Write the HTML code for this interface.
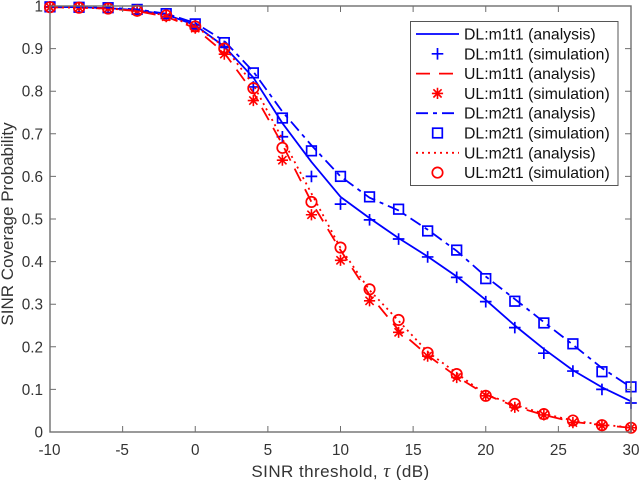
<!DOCTYPE html>
<html>
<head>
<meta charset="utf-8">
<title>SINR Coverage Probability</title>
<style>
html,body{margin:0;padding:0;background:#fff;}
svg{display:block;filter:blur(0.35px);}
text{font-family:"Liberation Sans",sans-serif;}
</style>
</head>
<body>
<svg id="chart" xmlns="http://www.w3.org/2000/svg" width="640" height="480" viewBox="0 0 640 480">
  <rect x="50" y="6" width="581" height="426" fill="#fff"/>
  <g id="series"></g>
  <g id="axes"></g>
  <text x="340.5" y="477" text-anchor="middle" font-size="17" letter-spacing="0.45" fill="#333">SINR threshold, <tspan font-family="Liberation Serif" font-style="italic" font-size="19">τ</tspan> (dB)</text>
  <text transform="translate(13,224) rotate(-90)" text-anchor="middle" font-size="17" fill="#333">SINR Coverage Probability</text>
  <g id="legend"></g>
</svg>
<script>
const thresholds = [-10,-8,-6,-4,-2,0,2,4,6,8,10,12,14,16,18,20,22,24,26,28,30];
const dlM1Analysis = [0.998,0.997,0.995,0.99,0.98,0.955,0.905,0.832,0.725,0.634,0.552,0.502,0.455,0.412,0.365,0.31,0.25,0.195,0.145,0.105,0.072];
const dlM1Simulation = [0.998,0.997,0.995,0.99,0.98,0.955,0.905,0.81,0.693,0.60,0.535,0.498,0.453,0.411,0.363,0.306,0.245,0.185,0.143,0.10,0.068];
const ulM1Analysis = [0.997,0.996,0.994,0.988,0.975,0.948,0.89,0.797,0.675,0.54,0.427,0.322,0.239,0.18,0.13,0.088,0.06,0.04,0.024,0.016,0.01];
const ulM1Simulation = [0.997,0.996,0.994,0.988,0.975,0.948,0.887,0.778,0.638,0.51,0.403,0.308,0.234,0.178,0.128,0.085,0.058,0.04,0.022,0.015,0.01];
const dlM2Analysis = [0.998,0.997,0.996,0.992,0.982,0.96,0.918,0.846,0.752,0.673,0.60,0.55,0.52,0.475,0.425,0.365,0.312,0.258,0.205,0.15,0.105];
const dlM2Simulation = [0.998,0.997,0.996,0.992,0.982,0.958,0.914,0.843,0.737,0.66,0.60,0.552,0.523,0.472,0.427,0.36,0.307,0.256,0.207,0.1415,0.106];
const ulM2Analysis = [0.997,0.996,0.994,0.989,0.978,0.952,0.905,0.815,0.688,0.56,0.432,0.333,0.261,0.188,0.138,0.088,0.064,0.043,0.027,0.017,0.011];
const ulM2Simulation = [0.997,0.996,0.994,0.989,0.978,0.952,0.90,0.807,0.667,0.54,0.433,0.335,0.263,0.186,0.136,0.085,0.066,0.042,0.027,0.016,0.01];
const xTickValues = [-10,-5,0,5,10,15,20,25,30];
const yTickValues = [0,0.1,0.2,0.3,0.4,0.5,0.6,0.7,0.8,0.9,1];
const legendLabels = ["DL:m1t1 (analysis)","DL:m1t1 (simulation)","UL:m1t1 (analysis)","UL:m1t1 (simulation)","DL:m2t1 (analysis)","DL:m2t1 (simulation)","UL:m2t1 (analysis)","UL:m2t1 (simulation)"];

const NS = "http://www.w3.org/2000/svg";
const BLUE = "#0000ff", RED = "#ff0000", AXIS = "#6e6e6e", TEXT = "#333";
const plotLeft = 50, plotRight = 631, plotTop = 6, plotBottom = 432;
const xScale = v => plotLeft + (v + 10) / 40 * (plotRight - plotLeft);
const yScale = v => plotBottom - v * (plotBottom - plotTop);

function mk(tag, parent, props) {
  const el = document.createElementNS(NS, tag);
  for (const k in props) el.setAttribute(k, props[k]);
  parent.appendChild(el);
  return el;
}

function drawLine(parent, xs, ys, color, dash, name) {
  const d = xs.map((x, i) => (i ? "L" : "M") + xScale(x).toFixed(2) + " " + yScale(ys[i]).toFixed(2)).join("");
  const p = mk("path", parent, {d: d, fill: "none", stroke: color, "stroke-width": 1.8, "stroke-dasharray": dash, "stroke-linejoin": "round"});
  
  
}

function drawMarker(parent, kind, cx, cy, name) {
  const g = mk("g", parent, {fill: "none", "stroke-width": 1.7});
  
  
  if (kind === "plus") {
    g.setAttribute("stroke", BLUE);
    mk("path", g, {d: `M${cx-5.8} ${cy}H${cx+5.8}M${cx} ${cy-5.8}V${cy+5.8}`});
  } else if (kind === "star") {
    g.setAttribute("stroke", RED);
    mk("path", g, {d: `M${cx-5.6} ${cy}H${cx+5.6}M${cx} ${cy-5.6}V${cy+5.6}M${cx-4.1} ${cy-4.1}L${cx+4.1} ${cy+4.1}M${cx-4.1} ${cy+4.1}L${cx+4.1} ${cy-4.1}`, "stroke-width": 1.6});
  } else if (kind === "square") {
    g.setAttribute("stroke", BLUE);
    mk("rect", g, {x: cx-4.8, y: cy-4.8, width: 9.6, height: 9.6});
  } else {
    g.setAttribute("stroke", RED);
    mk("circle", g, {cx: cx, cy: cy, r: 5.2});
  }
}

const seriesRoot = document.getElementById("series");
drawLine(seriesRoot, thresholds, dlM1Analysis, BLUE, "none", "dl-m1t1-analysis-line");
thresholds.forEach((x, i) => drawMarker(seriesRoot, "plus", xScale(x), yScale(dlM1Simulation[i]), "dl-m1t1-simulation-point"));
drawLine(seriesRoot, thresholds, ulM1Analysis, RED, "14 9", "ul-m1t1-analysis-line");
thresholds.forEach((x, i) => drawMarker(seriesRoot, "star", xScale(x), yScale(ulM1Simulation[i]), "ul-m1t1-simulation-point"));
drawLine(seriesRoot, thresholds, dlM2Analysis, BLUE, "12 5 4 5", "dl-m2t1-analysis-line");
thresholds.forEach((x, i) => drawMarker(seriesRoot, "square", xScale(x), yScale(dlM2Simulation[i]), "dl-m2t1-simulation-point"));
drawLine(seriesRoot, thresholds, ulM2Analysis, RED, "2 4", "ul-m2t1-analysis-line");
thresholds.forEach((x, i) => drawMarker(seriesRoot, "circle", xScale(x), yScale(ulM2Simulation[i]), "ul-m2t1-simulation-point"));

const axesRoot = document.getElementById("axes");
const frame = mk("rect", axesRoot, {x: plotLeft, y: plotTop, width: plotRight-plotLeft, height: plotBottom-plotTop, fill: "none", stroke: AXIS, "stroke-width": 1.4});



xTickValues.forEach(v => {
  const x = xScale(v);
  const t = mk("path", axesRoot, {d: `M${x} ${plotBottom}v-6M${x} ${plotTop}v6`, stroke: AXIS, "stroke-width": 1, fill: "none"});
  
  
  const l = mk("text", axesRoot, {x: x - (v < 0 ? 0.5 : 0), y: 455, "text-anchor": "middle", "font-size": 15.3, fill: TEXT});
  
  
  l.textContent = String(v);
});
yTickValues.forEach(v => {
  const y = yScale(v);
  const t = mk("path", axesRoot, {d: `M${plotLeft} ${y}h6M${plotRight} ${y}h-6`, stroke: AXIS, "stroke-width": 1, fill: "none"});
  
  
  const l = mk("text", axesRoot, {x: 43, y: y + 5.5, "text-anchor": "end", "font-size": 15.3, fill: TEXT});
  
  
  l.textContent = String(v);
});

const legendRoot = document.getElementById("legend");
const legendBox = mk("rect", legendRoot, {x: 410.5, y: 21.5, width: 207.5, height: 164, fill: "#fff", stroke: "#555", "stroke-width": 1});


const legendStyles = [
  {line: "none", color: BLUE},
  {marker: "plus"},
  {line: "14 9", color: RED},
  {marker: "star"},
  {line: "12 5 4 5", color: BLUE},
  {marker: "square"},
  {line: "2 4", color: RED},
  {marker: "circle"}
];
legendLabels.forEach((label, i) => {
  const y = 34 + i * 19.8;
  const style = legendStyles[i];
  if (style.marker) {
    drawMarker(legendRoot, style.marker, 437.5, y, "legend-marker");
  } else {
    const s = mk("path", legendRoot, {d: `M416 ${y}H459`, stroke: style.color, "stroke-width": 1.8, "stroke-dasharray": style.line, fill: "none"});
    
    
  }
  const t = mk("text", legendRoot, {x: 464, y: y + 5.5, "font-size": 15.8, fill: "#111"});
  
  
  t.textContent = label;
});
</script>
</body>
</html>
